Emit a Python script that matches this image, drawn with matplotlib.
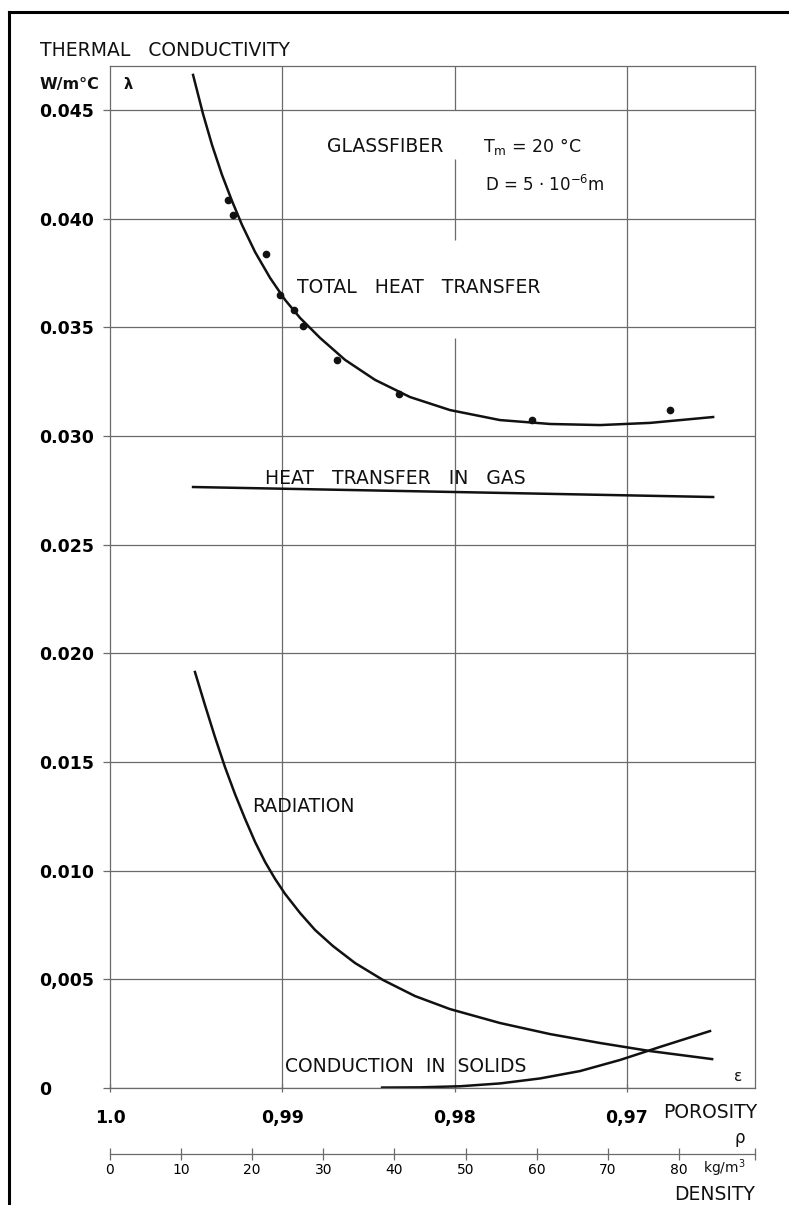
import matplotlib
matplotlib.use("Agg")
import matplotlib.pyplot as plt
from matplotlib.lines import Line2D

plt.rcParams["font.family"] = ["DejaVu Sans"]

# porosity / thermal conductivity
total_por = [0.99518, 0.99460, 0.99408, 0.99350, 0.99292, 0.99234, 0.99158,
             0.99071, 0.98984, 0.98897, 0.98781, 0.98636, 0.98462, 0.98259,
             0.98027, 0.97737, 0.97446, 0.97156, 0.96866, 0.96500]
total_lam = [0.04661, 0.04481, 0.04339, 0.04201, 0.04081, 0.03971, 0.03846,
             0.03727, 0.03626, 0.03543, 0.03451, 0.03350, 0.03258, 0.03179,
             0.03119, 0.03073, 0.03055, 0.03050, 0.03060, 0.03087]

meas_por = [0.99315, 0.99286, 0.99095, 0.99013, 0.98932, 0.98880, 0.98683,
            0.98323, 0.97551, 0.96750]
meas_lam = [0.04085, 0.04016, 0.03836, 0.03648, 0.03579, 0.03505, 0.03349,
            0.03192, 0.03073, 0.03119]

gas_por = [0.99518, 0.97998, 0.96500]
gas_lam = [0.02765, 0.02742, 0.02719]

rad_por = [0.99507, 0.99449, 0.99391, 0.99333, 0.99275, 0.99216, 0.99158,
           0.99100, 0.99042, 0.98984, 0.98897, 0.98810, 0.98706, 0.98578,
           0.98416, 0.98230, 0.98027, 0.97737, 0.97446, 0.97156, 0.96866,
           0.96506]
rad_lam = [0.01914, 0.01762, 0.01615, 0.01477, 0.01353, 0.01238, 0.01132,
           0.01040, 0.00962, 0.00893, 0.00805, 0.00727, 0.00653, 0.00575,
           0.00497, 0.00423, 0.00363, 0.00299, 0.00248, 0.00207, 0.00170,
           0.00133]

cond_por = [0.98421, 0.98201, 0.97969, 0.97737, 0.97504, 0.97272, 0.97040,
            0.96808, 0.96518]
cond_lam = [0.00002, 0.00003, 0.00008, 0.00021, 0.00044, 0.00078, 0.00129,
            0.00189, 0.00262]

y_ticks = [0, 0.005, 0.010, 0.015, 0.020, 0.025, 0.030, 0.035, 0.040, 0.045]
y_labels = ["0", "0,005", "0.010", "0.015", "0.020", "0.025", "0.030",
            "0.035", "0.040", "0.045"]
x_ticks = [1.0, 0.99, 0.98, 0.97]
x_labels = ["1.0", "0,99", "0,98", "0,97"]
dens_ticks = [0, 10, 20, 30, 40, 50, 60, 70, 80]

W_PX, H_PX = 789, 1205


def fx(px):
    return px / W_PX


def fy(py):
    return 1 - py / H_PX


GRID = "#6a6a6a"
INK = "#111111"
FS = 12.5      # tick labels
FL = 13.5      # lettering

fig = plt.figure(figsize=(W_PX / 100, H_PX / 100), dpi=100)
ax = fig.add_axes([fx(110), fy(1088), fx(755) - fx(110), fy(66) - fy(1088)])
ax.set_xlim(1.0, 0.96257)
ax.set_ylim(0, 0.04702)

for s in ax.spines.values():
    s.set_color(GRID)
    s.set_linewidth(0.9)

ax.set_yticks(y_ticks)
ax.set_yticklabels(y_labels)
ax.tick_params(axis="y", direction="out", length=5, width=0.9, color=GRID,
               pad=46, labelsize=FS)
for lab in ax.get_yticklabels():
    lab.set_horizontalalignment("left")
    lab.set_fontweight("bold")
ax.grid(axis="y", color=GRID, linewidth=0.9)

ax.set_xticks(x_ticks)
ax.set_xticklabels(x_labels)
ax.tick_params(axis="x", direction="inout", length=6, width=0.9, color=GRID,
               pad=12, labelsize=FS)
for lab in ax.get_xticklabels():
    lab.set_fontweight("bold")

# vertical grid lines (the 0.98 one is broken around the lettering)
ax.vlines([0.99, 0.97], 0, 0.04702, color=GRID, linewidth=0.9)
for y0, y1 in [(0.0, 0.03451), (0.03902, 0.04274), (0.04500, 0.04702)]:
    ax.vlines(0.98, y0, y1, color=GRID, linewidth=0.9)

ax.plot(total_por, total_lam, color=INK, lw=1.8)
ax.plot(meas_por, meas_lam, "o", color=INK, ms=4.5)
ax.plot(gas_por, gas_lam, color=INK, lw=1.8)
ax.plot(rad_por, rad_lam, color=INK, lw=1.8)
ax.plot(cond_por, cond_lam, color=INK, lw=1.8)

txt = dict(fontsize=FL, color=INK, va="center", ha="left")
ax.text(0.98741, 0.04330, "GLASSFIBER", **txt)
ax.text(0.97835, 0.04330, r"T$_\mathregular{m}$ = 20 °C", fontsize=12.5,
        color=INK, va="center", ha="left")
ax.text(0.97824, 0.04155, r"D = 5 · 10$^{\mathregular{-6}}$m", fontsize=12,
        color=INK, va="center", ha="left")
ax.text(0.98915, 0.03681, "TOTAL   HEAT   TRANSFER", **txt)
ax.text(0.99100, 0.02802, "HEAT   TRANSFER   IN   GAS", **txt)
ax.text(0.99176, 0.01297, "RADIATION", **txt)
ax.text(0.98984, 0.00101, "CONDUCTION  IN  SOLIDS", **txt)
ax.text(0.96355, 0.00055, "ε", fontsize=11, color=INK, ha="center", va="center")
ax.text(0.99896, 0.04619, "λ", fontsize=10.5, color=INK, ha="center",
        va="center", fontweight="bold")

# labels outside the plot
fig.text(fx(40), fy(50), "THERMAL   CONDUCTIVITY", fontsize=FL, color=INK,
         ha="left", va="center")
fig.text(fx(40), fy(84), "W/m°C", fontsize=11.5, color=INK, ha="left",
         va="center", fontweight="bold")
fig.text(fx(757), fy(1112), "POROSITY", fontsize=FL, color=INK, ha="right",
         va="center")
fig.text(fx(740), fy(1138), "ρ", fontsize=12, color=INK, ha="center",
         va="center")
fig.text(fx(755), fy(1194), "DENSITY", fontsize=FL, color=INK, ha="right",
         va="center")
fig.text(fx(703), fy(1168), r"kg/m$^\mathregular{3}$", fontsize=10, color=INK,
         ha="left", va="center")

# density scale
dax = fig.add_axes([fx(110), fy(1154), fx(755) - fx(110), 0.0001])
dax.set_xlim(0, 90.7)
dax.set_yticks([])
for k in ("left", "right", "top"):
    dax.spines[k].set_visible(False)
dax.spines["bottom"].set_color(GRID)
dax.spines["bottom"].set_linewidth(0.9)
dax.set_xticks(dens_ticks)
dax.set_xticks([90.7], minor=True)
dax.tick_params(axis="x", which="both", direction="inout", length=9, width=0.9,
                color=GRID, pad=2, labelsize=10)
dax.patch.set_alpha(0)

# page frame
fig.add_artist(Line2D([fx(9), fx(9)], [fy(12), 0], lw=2.2, color="black",
                      transform=fig.transFigure))
fig.add_artist(Line2D([fx(9), 1], [fy(12), fy(12)], lw=2.2, color="black",
                      transform=fig.transFigure))

fig.savefig("out.png", dpi=100)
